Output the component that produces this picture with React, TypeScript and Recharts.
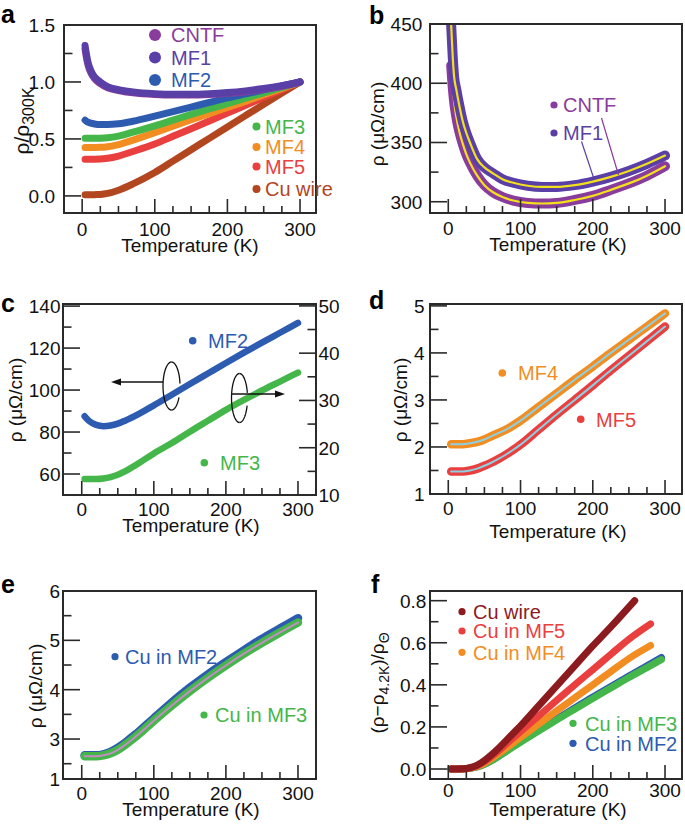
import React from "react";
import { LineChart, Line, XAxis, YAxis } from "recharts";

// ---- data ----
const xTicks = [0, 25, 50, 75, 100, 125, 150, 175, 200, 225, 250, 275, 300];

// a: normalised resistivity
const tA = [4, 6, 8, 12, 17, 25, 35, 50, 70, 100, 125, 150, 175, 200, 225, 250, 275, 300];
const aCNTF = [1.29, 1.21, 1.15, 1.08, 1.03, 0.985, 0.95, 0.925, 0.905, 0.89, 0.885, 0.885, 0.89, 0.9, 0.915, 0.935, 0.962, 1.0];
const aMF1 = [1.32, 1.24, 1.175, 1.1, 1.045, 1.0, 0.96, 0.932, 0.912, 0.897, 0.892, 0.892, 0.897, 0.907, 0.922, 0.942, 0.968, 1.0];
const aMF2 = [0.665, 0.655, 0.647, 0.638, 0.631, 0.626, 0.626, 0.633, 0.655, 0.7, 0.74, 0.78, 0.82, 0.86, 0.895, 0.93, 0.965, 1.0];
const aMF3 = [0.505, 0.505, 0.505, 0.505, 0.505, 0.506, 0.51, 0.525, 0.56, 0.615, 0.665, 0.715, 0.763, 0.81, 0.858, 0.905, 0.952, 1.0];
const aMF4 = [0.425, 0.425, 0.425, 0.425, 0.425, 0.426, 0.432, 0.45, 0.49, 0.555, 0.612, 0.668, 0.722, 0.776, 0.83, 0.888, 0.944, 1.0];
const aMF5 = [0.322, 0.322, 0.322, 0.322, 0.322, 0.323, 0.33, 0.35, 0.39, 0.455, 0.523, 0.59, 0.658, 0.727, 0.795, 0.865, 0.932, 1.0];
const aCu = [0.01, 0.01, 0.01, 0.01, 0.011, 0.013, 0.022, 0.05, 0.105, 0.205, 0.305, 0.405, 0.505, 0.605, 0.705, 0.805, 0.903, 1.0];
const aYTicks = [0, 0.25, 0.5, 0.75, 1, 1.25, 1.5];
const aYLabels = ["0.0", "", "0.5", "", "1.0", "", "1.5"];

// b: CNTF and MF1 (µΩ/cm)
const tB = [4, 6, 8, 11, 15, 20, 25, 30, 40, 50, 62, 75, 90, 110, 130, 150, 175, 200, 225, 250, 275, 300];
const bMF1 = [449, 424, 406, 395, 382, 368, 358, 350, 336, 329, 324, 319, 316, 313.5, 312.5, 312.5, 314, 317, 321, 326, 332, 339];
const bCNTF = [415, 398, 385, 372, 360, 349, 340, 333, 322, 314, 308, 304, 301, 299, 298.5, 299, 301.5, 305, 310, 315.5, 322, 330];
const bYTicks = [300, 325, 350, 375, 400, 425, 450];
const bYLabels = ["300", "", "350", "", "400", "", "450"];

// c: MF2 (left axis), MF3 (right axis)
const tC = [4, 10, 20, 30, 40, 50, 60, 80, 100, 125, 150, 175, 200, 225, 250, 275, 300];
const cMF2 = [87.5, 85.3, 83.4, 82.8, 83.1, 84.0, 85.4, 88.8, 92.7, 97.8, 102.9, 107.9, 112.9, 117.8, 122.6, 127.3, 132];
const cMF3 = [13.4, 13.4, 13.4, 13.5, 13.8, 14.3, 15.0, 16.8, 18.8, 21.0, 23.4, 25.7, 28.0, 30.1, 32.1, 34.0, 35.9];
const cYTicks = [60, 70, 80, 90, 100, 110, 120, 130, 140];
const cYLabels = ["60", "", "80", "", "100", "", "120", "", "140"];
const cRTicks = [10, 15, 20, 25, 30, 35, 40, 45, 50];
const cRLabels = ["10", "", "20", "", "30", "", "40", "", "50"];

// d: MF4, MF5
const tD = [4, 20, 30, 40, 50, 60, 70, 80, 90, 100, 125, 150, 175, 200, 225, 250, 275, 300];
const dMF4 = [2.06, 2.06, 2.08, 2.11, 2.16, 2.23, 2.3, 2.37, 2.46, 2.56, 2.85, 3.14, 3.43, 3.71, 4.0, 4.28, 4.56, 4.84];
const dMF5 = [1.48, 1.48, 1.5, 1.54, 1.6, 1.67, 1.75, 1.84, 1.94, 2.05, 2.37, 2.69, 3.0, 3.31, 3.63, 3.94, 4.25, 4.56];
const dYTicks = [1, 1.5, 2, 2.5, 3, 3.5, 4, 4.5, 5];
const dYLabels = ["1", "", "2", "", "3", "", "4", "", "5"];

// e: Cu in MF2, Cu in MF3
const tE = [4, 20, 30, 40, 50, 60, 70, 80, 90, 100, 125, 150, 175, 200, 225, 250, 275, 300];
const eMF2 = [2.67, 2.67, 2.69, 2.74, 2.82, 2.92, 3.04, 3.16, 3.29, 3.42, 3.74, 4.04, 4.31, 4.56, 4.8, 5.03, 5.24, 5.45];
const eMF3 = [2.65, 2.65, 2.67, 2.71, 2.78, 2.88, 2.99, 3.11, 3.24, 3.37, 3.68, 3.97, 4.24, 4.49, 4.73, 4.95, 5.16, 5.36];
const eYTicks = [2.19, 2.5, 3, 3.5, 4, 4.5, 5, 5.5, 6];
const eYLabels = ["1", "", "3", "", "4", "", "5", "", "6"];

// f: (rho - rho4.2K)/rhoTheta
const tF1 = [4, 20, 30, 40, 50, 60, 70, 80, 90, 100, 125, 150, 175, 200, 225, 258];
const fCuWire = [0, 0.001, 0.006, 0.018, 0.04, 0.068, 0.1, 0.135, 0.17, 0.205, 0.3, 0.395, 0.49, 0.585, 0.675, 0.8];
const tF2 = [4, 20, 30, 40, 50, 60, 70, 80, 90, 100, 125, 150, 175, 200, 225, 250, 280];
const fMF5 = [0, 0, 0.005, 0.015, 0.035, 0.06, 0.088, 0.118, 0.148, 0.178, 0.252, 0.326, 0.4, 0.472, 0.545, 0.617, 0.69];
const fMF4 = [0, 0, 0.004, 0.012, 0.028, 0.05, 0.074, 0.099, 0.124, 0.15, 0.213, 0.276, 0.338, 0.4, 0.463, 0.525, 0.587];
const tF3 = [4, 20, 30, 40, 50, 60, 70, 80, 90, 100, 125, 150, 175, 200, 225, 250, 275, 295];
const fMF3 = [0, 0, 0.003, 0.01, 0.022, 0.04, 0.061, 0.083, 0.105, 0.127, 0.18, 0.233, 0.284, 0.335, 0.385, 0.435, 0.482, 0.52];
const fMF2 = [0, 0, 0.003, 0.01, 0.022, 0.04, 0.062, 0.085, 0.108, 0.13, 0.184, 0.238, 0.29, 0.342, 0.392, 0.442, 0.49, 0.53];
const fYTicks = [0, 0.1, 0.2, 0.3, 0.4, 0.5, 0.6, 0.7, 0.8];
const fYLabels = ["0.0", "", "0.2", "", "0.4", "", "0.6", "", "0.8"];

// ---- styles ----
const FONT = "'Liberation Sans', Arial, Helvetica, sans-serif";
const INK = "#111";
const FRAME = "#2a2a2a";
const C_CNTF = "#8a3c9c";
const C_MF1 = "#5a3fa6";
const C_MF2 = "#2d5bb0";
const C_MF3 = "#45b64a";
const C_MF4 = "#f28d22";
const C_MF5 = "#e9403f";
const C_CU = "#b2461f";
const C_CU_F = "#8c1b1f";
const YELLOW = "#f3e01c";
const LIGHTBLUE = "#8dcfe3";
const LAVENDER = "#c48bc4";

const pts = (ts: number[], vs: number[]) => ts.map((t, i) => ({ t, v: vs[i] }));

const curve = (key: string, data: { t: number; v: number }[], color: string, width: number, axis = "l") => (
  <Line
    key={key}
    data={data}
    dataKey="v"
    yAxisId={axis}
    type="monotone"
    stroke={color}
    strokeWidth={width}
    strokeLinecap="round"
    strokeLinejoin="round"
    dot={false}
    activeDot={false}
    isAnimationActive={false}
  />
);

// ticks drawn inside the frame, labels outside
const xTick = (gap: number) => (p: any) => {
  const t = p.payload.value;
  const major = t % 100 === 0;
  const x = Number(p.x);
  const y = Number(p.y);
  return (
    <g>
      <path d={`M${x},${y}V${y - (major ? 14 : 7)}`} stroke={FRAME} strokeWidth={1.6} fill="none" />
      {major && (
        <text x={x} y={y + gap} dy="0.72em" textAnchor="middle" fontSize={19} fontFamily={FONT} fill={INK}>
          {t}
        </text>
      )}
    </g>
  );
};

const yTick = (ticks: number[], labels: string[], gap: number, side: "left" | "right") => (p: any) => {
  const i = ticks.indexOf(p.payload.value);
  const lab = labels[i] || "";
  const dir = side === "left" ? 1 : -1;
  const len = lab ? 17 : 8.5;
  const x = Number(p.x);
  const y = Number(p.y);
  return (
    <g>
      <path d={`M${x},${y}H${x + dir * len}`} stroke={FRAME} strokeWidth={1.6} fill="none" />
      {lab && (
        <text
          x={x - dir * gap}
          y={y}
          dy="0.36em"
          textAnchor={side === "left" ? "end" : "start"}
          fontSize={19}
          fontFamily={FONT}
          fill={INK}
        >
          {lab}
        </text>
      )}
    </g>
  );
};

type PanelProps = {
  box: number[];
  plot: number[];
  xDomain: number[];
  xGap: number;
  yDomain: number[];
  yTicks: number[];
  yLabels: string[];
  yGap: number;
  rDomain?: number[];
  rTicks?: number[];
  rLabels?: string[];
  rGap?: number;
  children: React.ReactNode;
};

const Panel = (p: PanelProps) => {
  const [x, y, w, h] = p.box;
  const [l, t, r, b] = p.plot;
  const hasRight = !!p.rDomain;
  return (
    <div style={{ position: "absolute", left: x, top: y, width: w, height: h }}>
      <LineChart width={w} height={h} margin={{ top: t - y, right: hasRight ? 0 : x + w - r, bottom: 0, left: 0 }}>
        <XAxis
          dataKey="t"
          type="number"
          domain={p.xDomain}
          ticks={xTicks}
          interval={0}
          allowDataOverflow
          axisLine={false}
          tickSize={0}
          tickMargin={0}
          height={y + h - b}
          tick={xTick(p.xGap)}
        />
        <YAxis
          yAxisId="l"
          type="number"
          domain={p.yDomain}
          ticks={p.yTicks}
          interval={0}
          allowDataOverflow
          axisLine={false}
          tickSize={0}
          tickMargin={0}
          width={l - x}
          tick={yTick(p.yTicks, p.yLabels, p.yGap, "left")}
        />
        {hasRight && (
          <YAxis
            yAxisId="r"
            orientation="right"
            type="number"
            domain={p.rDomain}
            ticks={p.rTicks}
            interval={0}
            allowDataOverflow
            axisLine={false}
            tickSize={0}
            tickMargin={0}
            width={x + w - r}
            tick={yTick(p.rTicks!, p.rLabels!, p.rGap!, "right")}
          />
        )}
        {p.children}
      </LineChart>
      {/* plot frame */}
      <div
        style={{
          position: "absolute",
          left: l - x - 1,
          top: t - y - 1,
          width: r - l + 2,
          height: b - t + 2,
          border: `2px solid ${FRAME}`,
          boxSizing: "border-box",
          pointerEvents: "none",
        }}
      />
    </div>
  );
};

const Key = ({ x, y, r, tx, color, text }: { x: number; y: number; r: number; tx: number; color: string; text: string }) => (
  <g>
    <circle cx={x} cy={y} r={r} fill={color} />
    <text x={tx} y={y + 7.2} fontSize={20} fill={color}>
      {text}
    </text>
  </g>
);

const arc = (cx: number, cy: number, rx: number, ry: number, a0: number, a1: number) => {
  const n = 24;
  let d = "";
  for (let i = 0; i <= n; i++) {
    const a = ((a0 + ((a1 - a0) * i) / n) * Math.PI) / 180;
    d += (i ? "L" : "M") + (cx + rx * Math.cos(a)).toFixed(2) + "," + (cy + ry * Math.sin(a)).toFixed(2);
  }
  return d;
};

const Title = ({ x, y, children }: { x: number; y: number; children: React.ReactNode }) => (
  <text x={x} y={y} textAnchor="middle" fontSize={19} fill={INK}>
    {children}
  </text>
);

const YTitle = ({ x, y, children }: { x: number; y: number; children: React.ReactNode }) => (
  <text transform={`translate(${x},${y}) rotate(-90)`} textAnchor="middle" fontSize={19} fill={INK}>
    {children}
  </text>
);

const Overlay = () => (
  <svg width={685} height={828} style={{ position: "absolute", left: 0, top: 0, pointerEvents: "none" }} fontFamily={FONT}>
    {/* panel letters */}
    <g fontSize={25} fontWeight="bold" fill="#000">
      <text x={1} y={22.6}>a</text>
      <text x={369} y={24}>b</text>
      <text x={1} y={312}>c</text>
      <text x={369} y={309}>d</text>
      <text x={1} y={593}>e</text>
      <text x={371} y={593}>f</text>
    </g>

    {/* axis titles */}
    <Title x={190} y={251.5}>Temperature (K)</Title>
    <Title x={558} y={250.5}>Temperature (K)</Title>
    <Title x={191} y={531.5}>Temperature (K)</Title>
    <Title x={558} y={538}>Temperature (K)</Title>
    <Title x={191} y={815.5}>Temperature (K)</Title>
    <Title x={558} y={816}>Temperature (K)</Title>

    <YTitle x={29} y={121}>
      <tspan fontSize={21}>ρ/ρ</tspan>
      <tspan dy={5} fontSize={16}>300K</tspan>
    </YTitle>
    <YTitle x={384} y={124}>ρ (μΩ/cm)</YTitle>
    <YTitle x={22} y={400}>ρ (μΩ/cm)</YTitle>
    <YTitle x={407} y={400}>ρ (μΩ/cm)</YTitle>
    <YTitle x={42} y={686}>ρ (μΩ/cm)</YTitle>
    <YTitle x={384} y={683}>
      (ρ−ρ<tspan dy={5} fontSize={14}>4.2K</tspan>
      <tspan dy={-5} fontSize={19}>)/ρ</tspan>
      <tspan dy={5} fontSize={14}>Θ</tspan>
    </YTitle>

    {/* a legend */}
    <Key x={155} y={35} r={6} tx={171} color={C_CNTF} text="CNTF" />
    <Key x={155} y={57.5} r={6} tx={171} color={C_MF1} text="MF1" />
    <Key x={155} y={80} r={6} tx={171} color={C_MF2} text="MF2" />
    <Key x={256.5} y={126.5} r={4} tx={265} color={C_MF3} text="MF3" />
    <Key x={256.5} y={147} r={4} tx={265} color={C_MF4} text="MF4" />
    <Key x={256.5} y={166.5} r={4} tx={265} color={C_MF5} text="MF5" />
    <Key x={256.5} y={189} r={4} tx={265} color={C_CU} text="Cu wire" />

    {/* b legend + leaders */}
    <Key x={554} y={105} r={3.6} tx={563} color={C_CNTF} text="CNTF" />
    <Key x={554} y={133} r={3.6} tx={563} color={C_MF1} text="MF1" />
    <line x1={601.5} y1={118} x2={618.5} y2={175} stroke={C_CNTF} strokeWidth={1.2} />
    <line x1={581.5} y1={141.5} x2={593.5} y2={177.5} stroke={C_MF1} strokeWidth={1.2} />

    {/* c legend + axis pointers */}
    <Key x={192.7} y={340.7} r={3.8} tx={208} color={C_MF2} text="MF2" />
    <Key x={204.3} y={462.7} r={3.8} tx={220} color={C_MF3} text="MF3" />
    <g stroke="#111" strokeWidth={1.3} fill="none">
      <line x1={163} y1={382} x2={118} y2={382} />
      <path d={arc(171.5, 386, 8.5, 24, 90, 270)} />
      <path d={arc(171.5, 386, 8.5, 24, -90, -6)} />
      <path d={arc(171.5, 386, 8.5, 24, 28, 90)} />
      <line x1={232} y1={394} x2={278} y2={394} />
      <path d={arc(239.5, 398, 8, 24.5, 90, 270)} />
      <path d={arc(239.5, 398, 8, 24.5, -90, -12)} />
      <path d={arc(239.5, 398, 8, 24.5, 18, 90)} />
    </g>
    <path d="M111,382 L121,378.5 L121,385.5 Z" fill="#111" />
    <path d="M285,394 L275,390.5 L275,397.5 Z" fill="#111" />

    {/* d legend */}
    <Key x={502.3} y={373} r={3.8} tx={518} color={C_MF4} text="MF4" />
    <Key x={580.7} y={419.3} r={3.8} tx={596} color={C_MF5} text="MF5" />

    {/* e legend */}
    <Key x={115} y={656.7} r={3.6} tx={125} color={C_MF2} text="Cu in MF2" />
    <Key x={204} y={715} r={3.6} tx={215} color={C_MF3} text="Cu in MF3" />

    {/* f legend */}
    <Key x={462} y={611.7} r={3.6} tx={473} color={C_CU_F} text="Cu wire" />
    <Key x={462} y={631} r={3.6} tx={473} color={C_MF5} text="Cu in MF5" />
    <Key x={462} y={652.3} r={3.6} tx={473} color={C_MF4} text="Cu in MF4" />
    <Key x={573} y={723.3} r={3.6} tx={585} color={C_MF3} text="Cu in MF3" />
    <Key x={573} y={743.3} r={3.6} tx={585} color={C_MF2} text="Cu in MF2" />
  </svg>
);

export default function App() {
  return (
    <div style={{ position: "absolute", left: 0, top: 0, width: 685, height: 828, background: "#fff", fontFamily: FONT }}>
      <Panel
        box={[0, 0, 343, 270]}
        plot={[64, 25, 316, 213]}
        xDomain={[-25, 322]}
        xGap={9}
        yDomain={[-0.15, 1.5]}
        yTicks={aYTicks}
        yLabels={aYLabels}
        yGap={9}
      >
        {[
          curve("aCu", pts(tA, aCu), C_CU, 7),
          curve("aMF5", pts(tA, aMF5), C_MF5, 7),
          curve("aMF4", pts(tA, aMF4), C_MF4, 7),
          curve("aMF3", pts(tA, aMF3), C_MF3, 7),
          curve("aMF2", pts(tA, aMF2), C_MF2, 7),
          curve("aCNTF", pts(tA, aCNTF), C_CNTF, 7),
          curve("aMF1", pts(tA, aMF1), C_MF1, 7),
        ]}
      </Panel>

      <Panel
        box={[343, 0, 342, 270]}
        plot={[430, 24, 682, 213]}
        xDomain={[-25.3, 323.5]}
        xGap={8.7}
        yDomain={[290.5, 450]}
        yTicks={bYTicks}
        yLabels={bYLabels}
        yGap={7.7}
      >
        {[
          curve("bCNTF", pts(tB, bCNTF), C_CNTF, 10),
          curve("bCNTFy", pts(tB, bCNTF), YELLOW, 2.2),
          curve("bMF1", pts(tB, bMF1), C_MF1, 10),
          curve("bMF1y", pts(tB, bMF1), YELLOW, 2.2),
        ]}
      </Panel>

      <Panel
        box={[0, 270, 343, 280]}
        plot={[63, 304, 316, 495]}
        xDomain={[-26, 325]}
        xGap={7}
        yDomain={[50, 141]}
        yTicks={cYTicks}
        yLabels={cYLabels}
        yGap={2.5}
        rDomain={[10, 50.4]}
        rTicks={cRTicks}
        rLabels={cRLabels}
        rGap={2.5}
      >
        {[curve("cMF2", pts(tC, cMF2), C_MF2, 6.5, "l"), curve("cMF3", pts(tC, cMF3), C_MF3, 6.5, "r")]}
      </Panel>

      <Panel
        box={[343, 270, 342, 280]}
        plot={[430, 304, 682, 494]}
        xDomain={[-25.3, 323.5]}
        xGap={7.7}
        yDomain={[1, 5.04]}
        yTicks={dYTicks}
        yLabels={dYLabels}
        yGap={5.3}
      >
        {[
          curve("dMF4", pts(tD, dMF4), C_MF4, 8.5),
          curve("dMF4b", pts(tD, dMF4), LIGHTBLUE, 2),
          curve("dMF5", pts(tD, dMF5), C_MF5, 8.5),
          curve("dMF5b", pts(tD, dMF5), LIGHTBLUE, 2),
        ]}
      </Panel>

      <Panel
        box={[0, 550, 343, 278]}
        plot={[63, 591, 316, 779]}
        xDomain={[-26, 325]}
        xGap={7.3}
        yDomain={[2.19, 6]}
        yTicks={eYTicks}
        yLabels={eYLabels}
        yGap={3}
      >
        {[
          curve("eMF2", pts(tE, eMF2), C_MF2, 8.5),
          curve("eMF3", pts(tE, eMF3), C_MF3, 8.5),
          curve("eMF3p", pts(tE, eMF3), LAVENDER, 2),
        ]}
      </Panel>

      <Panel
        box={[343, 550, 342, 278]}
        plot={[430, 591, 682, 779]}
        xDomain={[-25.3, 323.5]}
        xGap={4.5}
        yDomain={[-0.0475, 0.846]}
        yTicks={fYTicks}
        yLabels={fYLabels}
        yGap={3.7}
      >
        {[
          curve("fMF2", pts(tF3, fMF2), C_MF2, 7),
          curve("fMF3", pts(tF3, fMF3), C_MF3, 7),
          curve("fMF4", pts(tF2, fMF4), C_MF4, 7),
          curve("fMF5", pts(tF2, fMF5), C_MF5, 7),
          curve("fCu", pts(tF1, fCuWire), C_CU_F, 7),
        ]}
      </Panel>

      <Overlay />
    </div>
  );
}
